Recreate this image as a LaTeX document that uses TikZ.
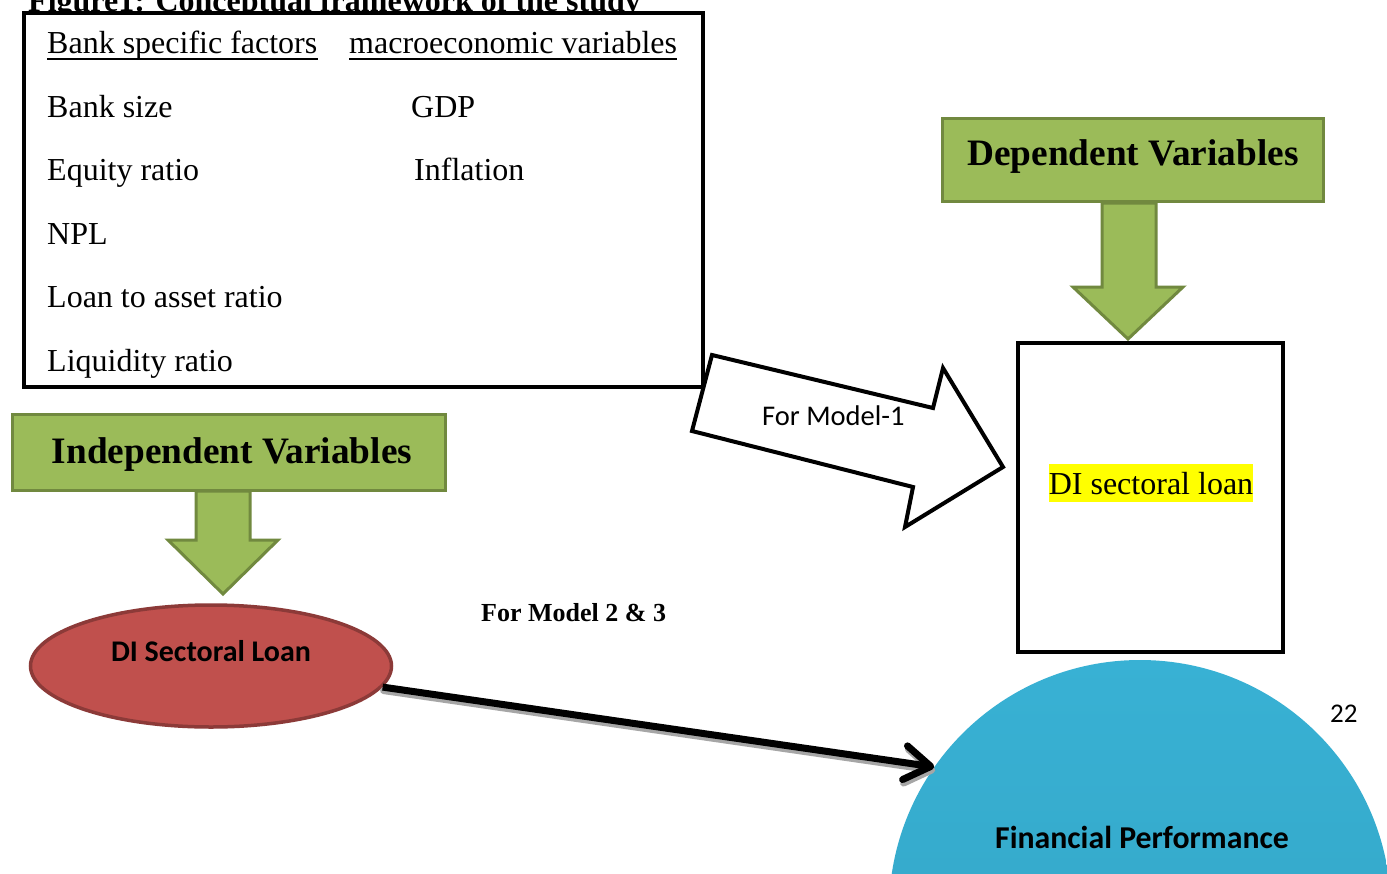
\documentclass[tikz,border=0pt]{standalone}
\usepackage{fontspec}
\setmainfont{Liberation Serif}
\newfontfamily\calibri{Carlito}
\usetikzlibrary{shapes.geometric,arrows.meta}
\definecolor{grfill}{HTML}{9BBB59}
\definecolor{grline}{HTML}{71893F}
\definecolor{rdfill}{HTML}{C0504D}
\definecolor{rdline}{HTML}{8C3A38}
\definecolor{bltop}{HTML}{38B1D4}
\definecolor{blbot}{HTML}{33A3C3}
\definecolor{hlyellow}{HTML}{FFFF00}
\tikzset{
  txt/.style={inner sep=0pt, anchor=base west, font=\fontsize{32}{38}\selectfont},
  frame/.style={draw=black, line width=4pt, fill=white, inner sep=0pt},
  greenbox/.style={draw=grline, fill=grfill, line width=3pt, inner sep=0pt},
  greenarrow/.style={draw=grline, fill=grfill, line width=3pt, line join=miter},
  hd/.style={inner sep=0pt, anchor=base, font=\bfseries\fontsize{37.3}{44}\selectfont},
  calb/.style={inner sep=0pt, anchor=base, font=\calibri\bfseries\fontsize{30}{36}\selectfont},
  ul/.style={line width=2pt},
}
\begin{document}
\begin{tikzpicture}[x=1pt,y=-1pt]
\useasboundingbox (0,0) rectangle (1387,873);
\clip (0,0) rectangle (1387,873);
\fill[white] (0,0) rectangle (1387,873);

% title (cut off by the page top)
\node[inner sep=0pt, anchor=base west, font=\bfseries\fontsize{32}{38}\selectfont] (title) at (28,11) {Figure1: Conceptual framework of the study};

% framework box
\node[frame, minimum width=679pt, minimum height=374pt] (fbox) at (363.5,200) {};
\node[txt] (bsf) at (47,53) {Bank specific factors};
\node[txt] (mev) at (349,53) {macroeconomic variables};
\draw[ul] ([yshift=-5.5pt]bsf.base west) -- ([yshift=-5.5pt]bsf.base east);
\draw[ul] ([yshift=-5.5pt]mev.base west) -- ([yshift=-5.5pt]mev.base east);
\node[txt] (bsize) at (47,117) {Bank size};
\node[txt] (gdp) at (411,117) {GDP};
\node[txt] (eq) at (47,180) {Equity ratio};
\node[txt] (infl) at (414,180) {Inflation};
\node[txt] (npl) at (47,244) {NPL};
\node[txt] (lta) at (47,307) {Loan to asset ratio};
\node[txt] (liq) at (47,371) {Liquidity ratio};

% block arrow for model 1
\draw[line width=4pt, fill=white, line join=miter] (712,355) -- (933,408) -- (943,368) -- (1003,467) -- (905,527) -- (913,487) -- (692,431) -- cycle;
\node[inner sep=0pt, anchor=base west, font=\calibri\fontsize{28.5}{34}\selectfont] (m1) at (762,425) {For Model-1};

% dependent side
\node[frame, minimum width=265pt, minimum height=309pt] (disl) at (1150.5,497.5) {};
\node[inner sep=0pt, anchor=base, fill=hlyellow, text height=30pt, text depth=8pt, font=\fontsize{32}{38}\selectfont] (disltxt) at (1151,494) {DI sectoral loan};
\node[greenbox, minimum width=381pt, minimum height=83pt] (depbox) at (1133,160) {};
\node[hd] (deptxt) at (1133,165) {Dependent Variables};
\draw[greenarrow] (1102,203) -- (1156,203) -- (1156,287) -- (1183,287) -- (1128,339) -- (1073,287) -- (1102,287) -- cycle;

% independent side
\node[greenbox, minimum width=433pt, minimum height=76pt] (indbox) at (229,452.5) {};
\node[hd] (indtxt) at (232,463) {Independent Variables};
\draw[greenarrow] (196,491) -- (250,491) -- (250,540) -- (278,540) -- (223,594) -- (168,540) -- (196,540) -- cycle;

% financial performance
\node[circle, top color=bltop, bottom color=blbot, minimum size=502pt, inner sep=0pt] (fp) at (1140,911) {};
\node[inner sep=0pt, anchor=base, font=\calibri\bfseries\fontsize{31.8}{38}\selectfont] (fptxt) at (1142,848) {Financial Performance};
\node[inner sep=0pt, anchor=base west, font=\calibri\fontsize{27}{32}\selectfont] (pg) at (1330,722) {22};

% DI sectoral loan ellipse
\node[ellipse, fill=rdfill, draw=rdline, line width=3.5pt, minimum width=361pt, minimum height=122pt] (dsl) at (211,666) {};
\node[calb] (dsltxt) at (211,661) {DI Sectoral Loan};

\node[inner sep=0pt, anchor=base west, font=\bfseries\fontsize{26}{31}\selectfont] (m23) at (481,621) {For Model 2 \& 3};

% arrow with shadow
\draw[line width=7pt, black!35, line cap=round, -{Straight Barb[length=26pt,width=34pt,line cap=round,line join=round]}] ([shift={(1pt,-3.5pt)}]dsl.-7.3) -- ([shift={(1pt,-3.5pt)}]fp.145.6);
\draw[line width=7pt, black, -{Straight Barb[length=26pt,width=34pt,line cap=round,line join=round]}] (dsl.-7.3) -- (fp.145.6);
\end{tikzpicture}
\end{document}
